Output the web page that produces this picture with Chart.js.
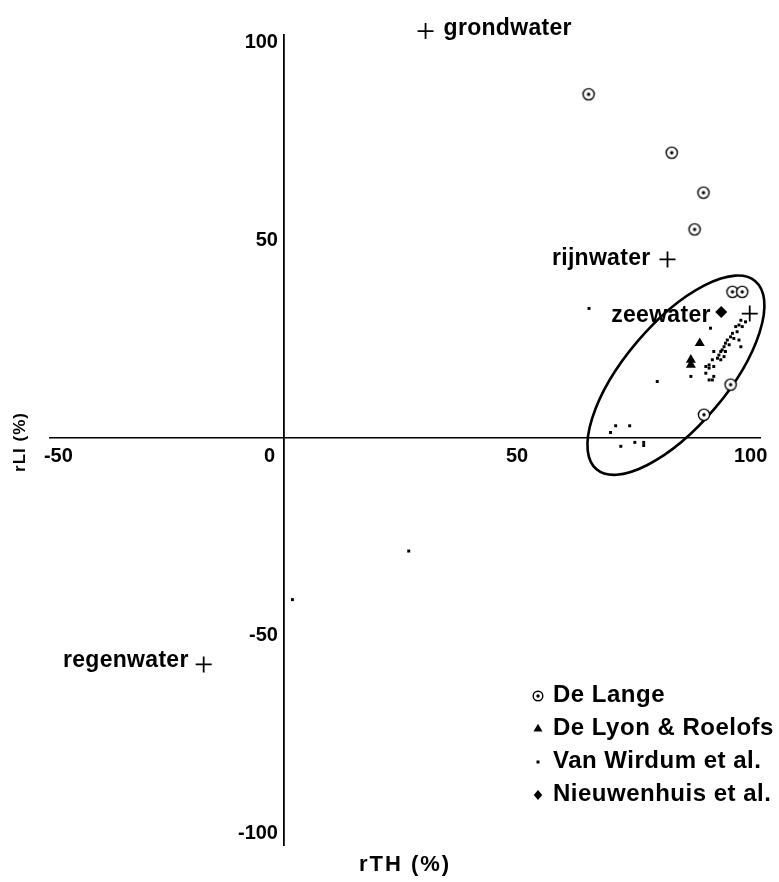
<!DOCTYPE html>
<html>
<head>
<meta charset="utf-8">
<script src="https://cdn.jsdelivr.net/npm/chart.js@4.4.1/dist/chart.umd.min.js"></script>
<style>
  html, body { margin: 0; padding: 0; background: #fff; }
  #wrap { width: 779px; height: 882px; position: relative; }
</style>
</head>
<body>
<div id="wrap"><canvas id="c"></canvas></div>
<script>
// ---- data ----
const xTicks = [-50, 0, 50, 100];
const yTicks = [-100, -50, 50, 100];
const xTitle = 'rTH (%)';
const yTitle = 'rLI (%)';

const seriesNames = ['De Lange', 'De Lyon & Roelofs', 'Van Wirdum et al.', 'Nieuwenhuis et al.'];

const deLangeX = [65.3, 83.1, 89.9, 88.0, 96.1, 98.2, 95.7, 90.0];
const deLangeY = [87.0, 72.2, 62.1, 52.8, 37.0, 37.0, 13.5, 5.9];

const deLyonX = [89.1, 87.2, 87.2];
const deLyonY = [24.0, 19.8, 18.5];

const vanWirdumX = [91.4, 97.9, 97.5, 96.8, 97.1, 96.1, 95.7, 96.4, 95.0, 94.6, 95.4, 94.3, 93.9, 94.6, 93.6, 93.2, 94.3, 92.9, 93.6, 97.5, 97.9, 92.1, 91.8, 90.4, 91.1, 92.1, 91.1, 90.4, 92.1, 87.2, 91.1, 91.8, 98.9, 98.2, 80.0, 65.4, 71.1, 74.1, 70.0, 72.2, 75.2, 77.1, 77.1, 26.8, 1.9];
const vanWirdumY = [27.8, 29.8, 28.6, 28.2, 26.9, 26.5, 25.6, 25.2, 24.8, 24.0, 23.6, 23.1, 22.3, 21.9, 21.9, 21.0, 20.6, 20.2, 19.8, 24.8, 23.1, 21.9, 19.8, 18.1, 18.5, 18.1, 17.7, 16.4, 15.6, 15.6, 14.7, 14.7, 29.4, 28.2, 14.3, 32.8, 3.1, 3.1, 1.4, -2.1, -1.1, -1.1, -1.9, -28.6, -40.9];

const nieuwenhuisX = [93.7];
const nieuwenhuisY = [31.9];

const waterNames = ['grondwater', 'rijnwater', 'zeewater', 'regenwater'];
const waterX = [30.4, 82.2, 99.8, -17.1];
const waterY = [103.0, 45.2, 31.5, -57.3];

// ellipse around the cluster (data coords): centre, end of major axis, end of minor axis
const ellipseCenter = [84.0, 15.9];
const ellipseMajorEnd = [101.0, 39.7];
const ellipseMinorEnd = [92.4, 7.6];

// ---- helpers ----
const pts = (xs, ys) => xs.map((x, i) => ({ x: x, y: ys[i] }));
const FONT = '"Liberation Sans", Arial, Helvetica, sans-serif';

function makeRingDot(r) {
  const s = Math.ceil(r * 2 + 4);
  const cv = document.createElement('canvas');
  cv.width = s; cv.height = s;
  const g = cv.getContext('2d');
  g.beginPath(); g.arc(s / 2, s / 2, r, 0, Math.PI * 2);
  g.fillStyle = '#fff'; g.fill();
  g.lineWidth = 1.4; g.strokeStyle = '#000'; g.stroke();
  g.beginPath(); g.arc(s / 2, s / 2, 1.7, 0, Math.PI * 2);
  g.fillStyle = '#000'; g.fill();
  return cv;
}
const ringDot = makeRingDot(5.6);
const ringDotSmall = makeRingDot(4.8);

function drawMarker(ctx, kind, x, y) {
  ctx.save();
  ctx.fillStyle = '#000';
  ctx.beginPath();
  if (kind === 0) {
    ctx.drawImage(ringDotSmall, x - ringDotSmall.width / 2, y - ringDotSmall.height / 2);
  } else if (kind === 1) {
    const r = 5.2;
    ctx.moveTo(x, y - r);
    ctx.lineTo(x + r * 0.866, y + r * 0.5);
    ctx.lineTo(x - r * 0.866, y + r * 0.5);
    ctx.closePath(); ctx.fill();
  } else if (kind === 2) {
    ctx.rect(x - 1.5, y - 1.5, 3, 3); ctx.fill();
  } else {
    const r = 5;
    ctx.moveTo(x, y - r); ctx.lineTo(x + r * 0.85, y); ctx.lineTo(x, y + r); ctx.lineTo(x - r * 0.85, y);
    ctx.closePath(); ctx.fill();
  }
  ctx.restore();
}

const overlay = {
  id: 'overlay',
  beforeDatasetsDraw(chart) {
    const { ctx, scales: { x, y } } = chart;
    const cx = x.getPixelForValue(ellipseCenter[0]), cy = y.getPixelForValue(ellipseCenter[1]);
    const ax = x.getPixelForValue(ellipseMajorEnd[0]) - cx, ay = y.getPixelForValue(ellipseMajorEnd[1]) - cy;
    const bx = x.getPixelForValue(ellipseMinorEnd[0]) - cx, by = y.getPixelForValue(ellipseMinorEnd[1]) - cy;
    ctx.save();
    ctx.beginPath();
    ctx.ellipse(cx, cy, Math.hypot(ax, ay), Math.hypot(bx, by), Math.atan2(ay, ax), 0, Math.PI * 2);
    ctx.lineWidth = 2.6; ctx.strokeStyle = '#000'; ctx.stroke();
    ctx.restore();
  },
  afterDraw(chart) {
    const { ctx, scales: { x, y } } = chart;
    ctx.save();
    ctx.fillStyle = '#000';
    ctx.textBaseline = 'middle';
    ctx.font = 'bold 23px ' + FONT;
    ctx.letterSpacing = '0.3px';
    // water-type labels beside their + marks
    const place = { grondwater: [18, -2, 'left'], rijnwater: [-17, -1, 'right'], zeewater: [-39, 2, 'right'], regenwater: [-15, -4, 'right'] };
    waterNames.forEach((n, i) => {
      const px = x.getPixelForValue(waterX[i]), py = y.getPixelForValue(waterY[i]);
      const p = place[n];
      ctx.textAlign = p[2];
      ctx.fillText(n, px + p[0], py + p[1]);
    });
    // legend
    const lx = 538, ly0 = 695, dy = 33;
    ctx.textAlign = 'left';
    ctx.font = 'bold 24px ' + FONT;
    ctx.letterSpacing = '0.5px';
    seriesNames.forEach((n, i) => {
      drawMarker(ctx, i, lx, ly0 + i * dy + 1);
      ctx.fillText(n, lx + 15, ly0 + i * dy);
    });
    // axis titles
    ctx.font = 'bold 22px ' + FONT;
    ctx.letterSpacing = '2px';
    ctx.textAlign = 'center';
    ctx.fillText(xTitle, 405, 865);
    ctx.font = 'bold 17px ' + FONT;
    ctx.letterSpacing = '1px';
    ctx.translate(20, 442);
    ctx.rotate(-Math.PI / 2);
    ctx.fillText(yTitle, 0, 0);
    ctx.restore();
  }
};

new Chart(document.getElementById('c'), {
  type: 'scatter',
  data: {
    datasets: [
      { label: seriesNames[0], data: pts(deLangeX, deLangeY), pointStyle: ringDot, pointRadius: 6, order: 2 },
      { label: seriesNames[1], data: pts(deLyonX, deLyonY), pointStyle: 'triangle', pointRadius: 5.8, backgroundColor: '#000', borderColor: '#000', borderWidth: 0, order: 1 },
      { label: seriesNames[2], data: pts(vanWirdumX, vanWirdumY), pointStyle: 'rect', pointRadius: 2.1, backgroundColor: '#000', borderColor: '#000', borderWidth: 0, order: 3 },
      { label: seriesNames[3], data: pts(nieuwenhuisX, nieuwenhuisY), pointStyle: 'rectRot', pointRadius: 6, backgroundColor: '#000', borderColor: '#000', borderWidth: 0, order: 1 },
      { label: 'watertypen', data: pts(waterX, waterY), pointStyle: 'cross', pointRadius: 8, borderColor: '#000', borderWidth: 1.8, clip: false, order: 0 }
    ]
  },
  options: {
    responsive: true,
    maintainAspectRatio: false,
    animation: false,
    events: [],
    layout: { padding: { left: 50, right: 19, top: 35, bottom: 37 } },
    plugins: { legend: { display: false }, tooltip: { enabled: false }, title: { display: false } },
    scales: {
      x: {
        type: 'linear', min: -50, max: 102,
        position: { y: 0 },
        grid: { display: false, drawTicks: false },
        border: { display: true, color: '#000', width: 1.6 },
        afterBuildTicks: (s) => { s.ticks = xTicks.map(v => ({ value: v })); },
        ticks: {
          padding: 6, color: '#000', maxRotation: 0, autoSkip: false,
          font: { family: FONT, size: 20, weight: 'bold' },
          callback: (v) => (v === 0 ? '0     ' : (v === -50 ? '   -50' : String(v)))
        }
      },
      y: {
        type: 'linear', min: -103, max: 102,
        position: { x: 0 },
        grid: { display: false, drawTicks: false },
        border: { display: true, color: '#000', width: 1.8 },
        afterBuildTicks: (s) => { s.ticks = yTicks.map(v => ({ value: v })); },
        ticks: {
          padding: 6, color: '#000', autoSkip: false,
          font: { family: FONT, size: 20, weight: 'bold' },
          callback: (v) => (v < 0 ? '-' + Math.abs(v) : String(v)) + ' '
        }
      }
    }
  },
  plugins: [overlay]
});
</script>
</body>
</html>
